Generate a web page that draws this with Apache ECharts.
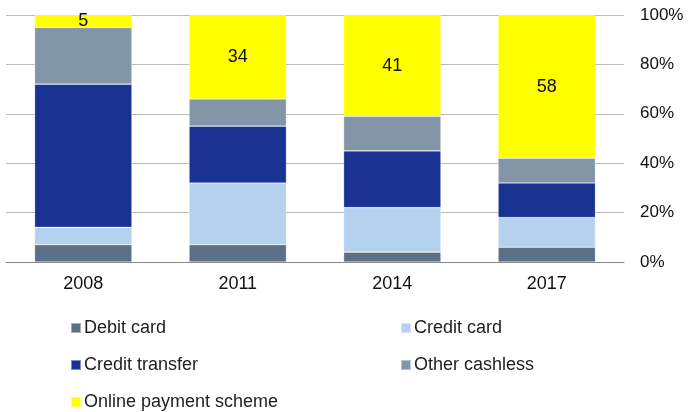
<!DOCTYPE html>
<html>
<head>
<meta charset="utf-8">
<script src="https://cdn.jsdelivr.net/npm/echarts@6/dist/echarts.min.js"></script>
<style>
html, body { margin: 0; padding: 0; background: #fff; }
#main { width: 689px; height: 412px; }
</style>
</head>
<body>
<div id="main"></div>
<script>
var years = ['2008', '2011', '2014', '2017'];
var debitCard = [7, 7, 4, 6];
var creditCard = [7, 25, 18, 12];
var creditTransfer = [58, 23, 23, 14];
var otherCashless = [23, 11, 14, 10];
var onlinePayment = [5, 34, 41, 58];
var yTicks = [0, 20, 40, 60, 80, 100];

var colors = {
  debit: '#5b7086',
  credit: '#b4d1ee',
  transfer: '#1a3292',
  other: '#8396a8',
  online: '#ffff00'
};

function bar(name, data, color, label) {
  return {
    name: name,
    type: 'bar',
    stack: 'total',
    barWidth: '63%',
    data: data,
    itemStyle: {
      color: color,
      borderColor: 'rgba(255,255,255,0.45)',
      borderWidth: 0.6
    },
    label: label ? {
      show: true,
      position: 'inside',
      color: '#111',
      fontSize: 18,
      fontFamily: 'Liberation Sans, Arial, sans-serif'
    } : { show: false }
  };
}

// one legend per item so the two columns line up like the original
function legendItem(name, left, top) {
  return {
    left: left,
    top: top,
    padding: 0,
    itemWidth: 10,
    itemHeight: 10,
    icon: 'rect',
    selectedMode: false,
    data: [name],
    textStyle: {
      color: '#222',
      fontSize: 18,
      lineHeight: 18,
      fontFamily: 'Liberation Sans, Arial, sans-serif',
      padding: [0, 0, 0, -2]
    }
  };
}

var option = {
  animation: false,
  grid: { left: 6, right: 65, top: 15, bottom: 150 },
  legend: [
    legendItem('Debit card', 70, 319),
    legendItem('Credit card', 400, 319),
    legendItem('Credit transfer', 70, 356),
    legendItem('Other cashless', 400, 356),
    legendItem('Online payment scheme', 70, 393)
  ],
  xAxis: {
    type: 'category',
    data: years,
    axisTick: { show: false },
    axisLine: { lineStyle: { color: '#888', width: 1 } },
    axisLabel: {
      color: '#111',
      fontSize: 18,
      margin: 13,
      fontFamily: 'Liberation Sans, Arial, sans-serif'
    }
  },
  yAxis: {
    type: 'value',
    position: 'right',
    min: yTicks[0],
    max: yTicks[yTicks.length - 1],
    interval: 20,
    axisLine: { show: false },
    axisTick: { show: false },
    splitLine: { lineStyle: { color: '#bbb', width: 1 } },
    axisLabel: {
      formatter: '{value}%',
      color: '#111',
      fontSize: 17,
      margin: 16,
      fontFamily: 'Liberation Sans, Arial, sans-serif'
    }
  },
  series: [
    bar('Debit card', debitCard, colors.debit, false),
    bar('Credit card', creditCard, colors.credit, false),
    bar('Credit transfer', creditTransfer, colors.transfer, false),
    bar('Other cashless', otherCashless, colors.other, false),
    bar('Online payment scheme', onlinePayment, colors.online, true)
  ]
};

echarts.init(document.getElementById('main')).setOption(option);
</script>
</body>
</html>
